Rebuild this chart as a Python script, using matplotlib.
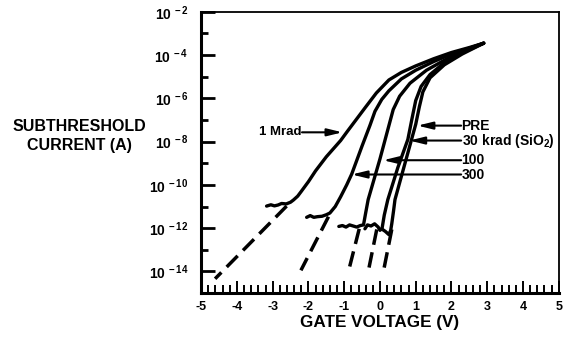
import numpy as np
import matplotlib
matplotlib.use('Agg')
import matplotlib.pyplot as plt

plt.rcParams['font.family'] = ['Liberation Sans', 'DejaVu Sans']
plt.rcParams['font.weight'] = 'bold'
plt.rcParams['mathtext.fontset'] = 'custom'
plt.rcParams['mathtext.rm'] = 'Liberation Sans:bold'
plt.rcParams['mathtext.bf'] = 'Liberation Sans:bold'
plt.rcParams['mathtext.default'] = 'bf'
plt.rcParams['axes.unicode_minus'] = False

# Measured curves: gate voltage (V) and log10 of subthreshold current (A)
mrad1_v = [-3.17, -3.05, -2.95, -2.85, -2.75, -2.62, -2.5, -2.42, -2.3, -2.2, -2.0, -1.8, -1.5,
           -1.1, -0.9, -0.4, -0.1, 0.25, 0.6, 1.0, 1.5, 2.0, 2.5, 2.9]
mrad1_log = [-10.98, -10.92, -10.97, -10.93, -10.86, -10.88, -10.8, -10.7, -10.52, -10.3, -9.85, -9.35, -8.7,
             -7.95, -7.5, -6.4, -5.75, -5.15, -4.8, -4.5, -4.17, -3.88, -3.65, -3.45]

k300_v = [-2.05, -1.95, -1.85, -1.75, -1.62, -1.5, -1.4, -1.25, -1.1, -0.93, -0.79, -0.5,
          -0.28, -0.14, 0.05, 0.25, 0.6, 1.0, 1.5, 2.0, 2.5, 2.9]
k300_log = [-11.5, -11.42, -11.5, -11.47, -11.45, -11.38, -11.3, -11.0, -10.55, -10.0, -9.5, -8.2,
            -7.25, -6.6, -6.05, -5.65, -5.1, -4.7, -4.3, -3.95, -3.68, -3.45]

k100_v = [-1.15, -1.05, -0.95, -0.85, -0.75, -0.65, -0.55, -0.46, -0.4, -0.33, 0.0, 0.37,
          0.55, 0.84, 1.3, 1.95, 2.5, 2.9]
k100_log = [-11.92, -11.88, -11.95, -11.85, -11.9, -11.95, -11.88, -11.85, -11.3, -10.68, -8.8, -6.52,
            -5.9, -5.3, -4.7, -4.1, -3.7, -3.45]

k30_v = [-0.42, -0.35, -0.25, -0.15, -0.05, 0.0, 0.06, 0.12, 0.22, 0.5, 0.78, 0.9,
         1.0, 1.15, 1.4, 1.8, 2.3, 2.9]
k30_log = [-12.03, -11.85, -11.9, -11.8, -11.95, -12.1, -12.0, -11.4, -10.68, -9.2, -7.9, -6.9,
           -6.1, -5.45, -4.9, -4.35, -3.9, -3.45]

pre_v = [0.06, 0.15, 0.25, 0.3, 0.33, 0.38, 0.42, 0.7, 1.0, 1.1, 1.2, 1.4, 1.8, 2.3, 2.9]
pre_log = [-12.05, -12.15, -12.3, -12.1, -11.8, -11.2, -10.68, -9.0, -7.2, -6.4, -5.7, -5.05,
           -4.45, -3.95, -3.45]

# Dashed extrapolations: (start, end) points
dash_v = [(-2.61, -4.61), (-1.44, -2.21), (-0.58, -0.89), (-0.09, -0.32), (0.33, 0.08)]
dash_log = [(-10.98, -14.34), (-11.47, -13.95), (-12.03, -14.06), (-12.06, -13.94), (-12.06, -14.14)]

# Labels with arrow tips
labels = ['PRE', '30 krad (SiO$_2$)', '100', '300']
label_log = [-7.26, -7.95, -8.86, -9.52]
label_tip_v = [1.05, 0.82, 0.09, -0.79]

x_ticks = np.arange(-5, 6, 1)
y_major = [10.0 ** e for e in range(-14, -1, 2)]
y_minor = [10.0 ** e for e in range(-15, -2, 2)]
y_ticklabels = [r'$10^{\,%d}$' % e for e in range(-14, -1, 2)]

fig = plt.figure(figsize=(5.65, 3.38), dpi=100)
ax = fig.add_axes([0.356, 0.133, 0.633, 0.832])

solid = dict(color='black', lw=2.4, solid_capstyle='round', solid_joinstyle='round')
for v, lg in [(mrad1_v, mrad1_log), (k300_v, k300_log), (k100_v, k100_log),
              (k30_v, k30_log), (pre_v, pre_log)]:
    ax.plot(v, 10.0 ** np.array(lg), **solid)

for v, lg in zip(dash_v, dash_log):
    ax.plot(v, 10.0 ** np.array(lg), color='black', lw=2.5, dashes=(4.5, 2.2))

arrow = dict(arrowstyle='-|>,head_length=0.9,head_width=0.22', color='black', lw=1.5,
             shrinkA=0, shrinkB=0)
for text, lg, tip in zip(labels, label_log, label_tip_v):
    ax.annotate('', xy=(tip, 10.0 ** lg), xytext=(2.27, 10.0 ** lg), arrowprops=arrow)
    ax.text(2.28, 10.0 ** lg, text, fontsize=10, fontweight='bold', ha='left', va='center')

ax.annotate('', xy=(-1.05, 10.0 ** -7.57), xytext=(-2.18, 10.0 ** -7.57), arrowprops=arrow)
ax.text(-2.2, 10.0 ** -7.57, '1 Mrad', fontsize=9.5, fontweight='bold', ha='right', va='center')

ax.set_yscale('log')
ax.set_xlim(-5, 5)
ax.set_ylim(1e-15, 1e-2)
ax.set_xticks(x_ticks)
ax.set_xticks(np.arange(-5, 5.01, 0.2), minor=True)
ax.set_xticklabels([str(t) for t in x_ticks])
ax.set_yticks(y_major)
ax.set_yticks(y_minor, minor=True)
ax.set_yticklabels(y_ticklabels)
ax.yaxis.set_minor_formatter(matplotlib.ticker.NullFormatter())

ax.tick_params(axis='both', which='both', direction='in', color='black')
ax.tick_params(axis='y', which='major', length=10, width=2, pad=9, labelsize=10)
ax.tick_params(axis='y', which='minor', length=5, width=2)
ax.tick_params(axis='x', which='major', length=9, width=1.4, pad=6, labelsize=9)
ax.tick_params(axis='x', which='minor', length=6, width=1.4)
for lbl in ax.get_xticklabels() + ax.get_yticklabels():
    lbl.set_fontweight('bold')

for side in ['left', 'bottom']:
    ax.spines[side].set_linewidth(2.2)
for side in ['top', 'right']:
    ax.spines[side].set_linewidth(1.3)

fig.text(380 / 565, 1 - 323 / 338, 'GATE VOLTAGE (V)', fontsize=12.3, fontweight='bold',
         ha='center', va='center')
fig.text(79 / 565, 1 - 136 / 338, 'SUBTHRESHOLD\nCURRENT (A)', fontsize=11.5, fontweight='bold',
         ha='center', va='center', linespacing=1.35)

fig.savefig('out.png', dpi=100)
